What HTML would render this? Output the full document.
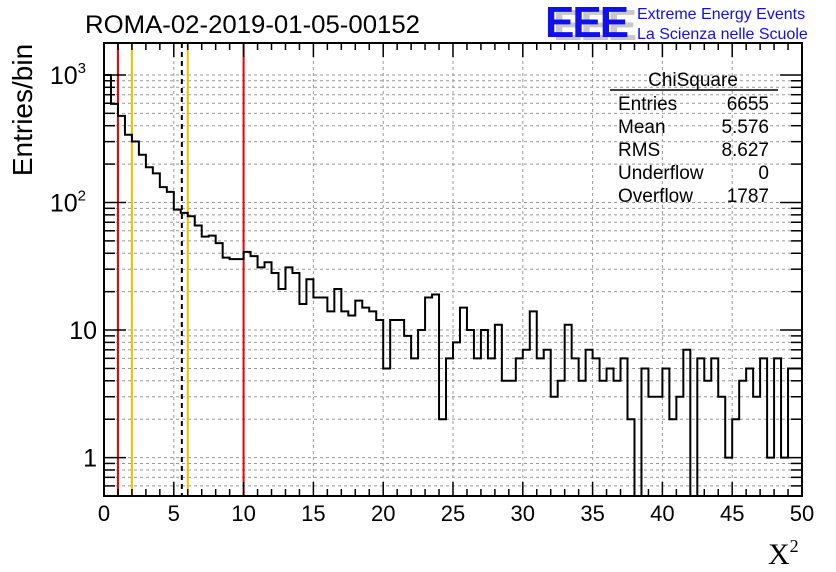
<!DOCTYPE html>
<html><head><meta charset="utf-8"><style>
body{margin:0;background:#fff;}
svg{display:block;font-family:"Liberation Sans",sans-serif;}
</style></head><body>
<svg id="chart" width="836" height="572" viewBox="0 0 836 572" xmlns="http://www.w3.org/2000/svg">
<rect width="836" height="572" fill="#fff"/>
<text x="85" y="33" font-size="25" fill="#000" textLength="335" lengthAdjust="spacingAndGlyphs">ROMA-02-2019-01-05-00152</text>
<g>
<text x="553" y="40" font-size="44" font-weight="bold" fill="#c8c8c8" letter-spacing="-2">EEE</text>
<text x="545" y="37" font-size="44" font-weight="bold" fill="#1010ee" letter-spacing="-2">EEE</text>
<text x="637" y="19" font-size="16" fill="#1010ee">Extreme Energy Events</text>
<text x="637" y="39" font-size="16" fill="#1010ee">La Scienza nelle Scuole</text>
</g>
<g id="grid"></g>
<g id="marks"></g>
<g id="axes"></g>
<text transform="translate(32,110) rotate(-90)" text-anchor="middle" font-size="28" fill="#000">Entries/bin</text>
<text x="768" y="564" font-family="Liberation Serif,serif" font-size="30" fill="#000">X<tspan font-size="18" dy="-12">2</tspan></text>
<g font-size="19" fill="#000">
<text x="693" y="86" text-anchor="middle">ChiSquare</text>
<line x1="610" y1="90" x2="778" y2="90" stroke="#000" stroke-width="1.5"/>
<text x="618" y="110">Entries</text><text x="769" y="110" text-anchor="end">6655</text>
<text x="618" y="133">Mean</text><text x="769" y="133" text-anchor="end">5.576</text>
<text x="618" y="156">RMS</text><text x="769" y="156" text-anchor="end">8.627</text>
<text x="618" y="179">Underflow</text><text x="769" y="179" text-anchor="end">0</text>
<text x="618" y="202">Overflow</text><text x="769" y="202" text-anchor="end">1787</text>
</g>
</svg>
<script>
const counts = [1000,593,478,340,301,237,189,169,132,121,88,83,78,66,54,55,48,37,36,36,
41,38,31,34,28,21,31,28,16,25,18,18,14,21,14,13,17,15,14,12,
5,12,12,9,6,10,18,19,2,6,8,15,10,6,10,6,11,4,4,6,
7,14,6,7,3,4,11,6,4,7,6,4,5,4,6,2,0,5,3,3,
5,2,3,7,0,6,4,6,3,1,2,4,5,3,6,1,6,1,5,5];
const binWidth = [0.5];
const xTicks = [0,5,10,15,20,25,30,35,40,45,50];
const yDecades = [1,10,100,1000];
const markerLines = [1.0,2.0,5.576,6.0,10.0];
const markerColors = ['#ee0000','#f0c000','#000','#f0c000','#ee0000'];

const L=104,R=802,T=43,B=496,YMIN=0.5,YMAX=1780;
const X=v=>L+(v-0)/(50-0)*(R-L);
const Y=v=>B-(Math.log10(v)-Math.log10(YMIN))/(Math.log10(YMAX)-Math.log10(YMIN))*(B-T);
const NS='http://www.w3.org/2000/svg';
function mk(p,tag,at){const e=document.createElementNS(NS,tag);for(const k in at)e.setAttribute(k,at[k]);p.appendChild(e);return e;}
const grid=document.getElementById('grid'),marks=document.getElementById('marks'),axes=document.getElementById('axes');
for(const t of xTicks){if(t===0||t===50)continue;
const g=mk(grid,'line',{x1:X(t),x2:X(t),y1:T,y2:B,stroke:'#999','stroke-dasharray':'3,3','stroke-width':1});

}
for(const d of yDecades){for(let m=1;m<10;m++){const v=d*m;if(v<YMIN||v>YMAX)continue;
const g=mk(grid,'line',{x1:L,x2:R,y1:Y(v),y2:Y(v),stroke:'#999','stroke-dasharray':'3,3','stroke-width':1});

}}
for(let m=5;m<10;m++){const v=0.1*m;if(v<YMIN)continue;const g=mk(grid,'line',{x1:L,x2:R,y1:Y(v),y2:Y(v),stroke:'#999','stroke-dasharray':'3,3'});

}
markerLines.forEach((v,i)=>{const l=mk(marks,'line',{x1:X(v),x2:X(v),y1:T,y2:B,stroke:markerColors[i],'stroke-width':2});
if(i===2)l.setAttribute('stroke-dasharray','5,4');

});
let d='';
counts.forEach((c,i)=>{const x0=X(i*binWidth[0]),x1=X((i+1)*binWidth[0]);const y=c>0?Math.max(T,Math.min(B,Y(c))):B;
d+=(i===0?`M${x0},${y}`:`L${x0},${y}`)+`L${x1},${y}`;});
const h=mk(marks,'path',{d:d,fill:'none',stroke:'#000','stroke-width':2});


const fr=mk(axes,'rect',{x:L,y:T,width:R-L,height:B-T,fill:'none',stroke:'#000','stroke-width':2});


for(let v=0;v<=50;v++){const len=v%5===0?14:7;
mk(axes,'line',{x1:X(v),x2:X(v),y1:B,y2:B-len,stroke:'#000','stroke-width':1.5});
mk(axes,'line',{x1:X(v),x2:X(v),y1:T,y2:T+len,stroke:'#000','stroke-width':1.5});}
for(const t of xTicks){const tx=mk(axes,'text',{x:X(t),y:521,'text-anchor':'middle','font-size':22,fill:'#000'});tx.textContent=t;

}
const yt=[];for(let m=5;m<10;m++)yt.push(0.1*m);for(const d2 of yDecades)for(let m=1;m<10;m++)if(d2*m<=YMAX)yt.push(d2*m);
for(const v of yt){const major=yDecades.some(q=>Math.abs(q-v)<1e-9);const len=major?22:11;
mk(axes,'line',{x1:L,x2:L+len,y1:Y(v),y2:Y(v),stroke:'#000','stroke-width':1.5});
mk(axes,'line',{x1:R,x2:R-len,y1:Y(v),y2:Y(v),stroke:'#000','stroke-width':1.5});}
const yLab=[['1',''],['10',''],['10','2'],['10','3']];
yDecades.forEach((v,i)=>{const tx=mk(axes,'text',{x:i<2?97:86,y:Y(v)+9,'text-anchor':'end','font-size':25,fill:'#000'});
tx.textContent=yLab[i][0];
if(yLab[i][1]){const s=mk(tx,'tspan',{'font-size':15,dy:-11});s.textContent=yLab[i][1];}

});
</script>
</body></html>
